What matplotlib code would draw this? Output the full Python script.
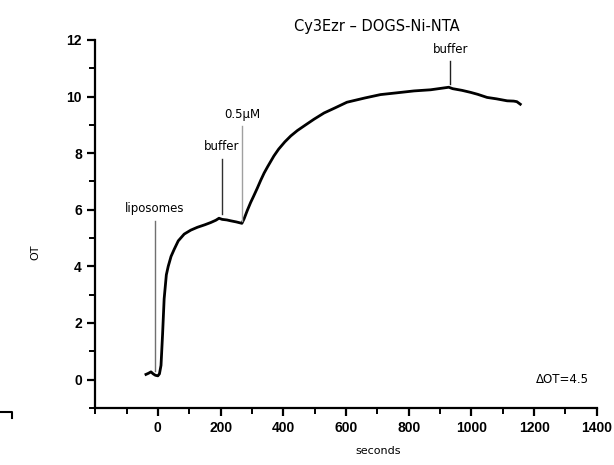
import matplotlib
matplotlib.use("Agg")
import matplotlib.pyplot as plt
from matplotlib.lines import Line2D

# trace (seconds, OT)
t = [-38, -30, -22, -15, -8, 0, 5, 10, 15, 20, 27, 33, 42, 52, 65, 84, 105,
     126, 150, 169, 185, 195, 205, 220, 232, 250, 268, 275, 285, 296, 305,
     317, 328, 339, 350, 370, 385, 405, 424, 445, 470, 498, 530, 565, 603,
     660, 710, 760, 817, 870, 928, 940, 970, 997, 1020, 1050, 1080, 1114,
     1135, 1145, 1156]
ot = [0.18, 0.22, 0.27, 0.2, 0.15, 0.13, 0.2, 0.5, 1.6, 2.85, 3.7, 4.0, 4.35,
      4.6, 4.9, 5.14, 5.28, 5.38, 5.47, 5.55, 5.63, 5.7, 5.66, 5.64, 5.61,
      5.57, 5.52, 5.68, 5.97, 6.26, 6.47, 6.76, 7.04, 7.3, 7.52, 7.9, 8.14,
      8.4, 8.61, 8.8, 8.99, 9.2, 9.42, 9.6, 9.8, 9.95, 10.07, 10.13, 10.2,
      10.24, 10.33, 10.28, 10.22, 10.15, 10.08, 9.97, 9.92, 9.85, 9.84, 9.82,
      9.73]

# annotations: label, x of marker line, line bottom, line top, colour
marks = [("liposomes", -10, 0.3, 5.6, "#707070"),
         ("buffer", 204, 5.85, 7.8, "#303030"),
         ("0.5µM", 268, 5.6, 8.95, "#a0a0a0"),
         ("buffer", 933, 10.45, 11.25, "#202020")]

fig = plt.figure(figsize=(6.14, 4.65), dpi=100)
ax = fig.add_axes([0.155, 0.123, 0.817, 0.791])

ax.plot(t, ot, color="black", lw=2)

for label, x, y0, y1, c in marks:
    ax.plot([x, x], [y0, y1], color=c, lw=1)
    ax.text(x, y1 + 0.2, label, ha="center", va="bottom", fontsize=8.5,
            family="DejaVu Sans")

ax.text(1290, 0, "ΔOT=4.5", ha="center", va="center", fontsize=8.5,
        family="DejaVu Sans")

ax.set_xlim(-200, 1400)
ax.set_ylim(-1, 12)
ax.set_xticks(range(0, 1401, 200))
ax.set_xticks(range(-200, 1401, 100), minor=True)
ax.set_yticks(range(0, 13, 2))
ax.set_yticks(range(-1, 13, 1), minor=True)

for s in ["top", "right"]:
    ax.spines[s].set_visible(False)
for s in ["left", "bottom"]:
    ax.spines[s].set_linewidth(1.6)

ax.tick_params(which="major", length=6, width=1.6, direction="out")
ax.tick_params(which="minor", length=4, width=1.4, direction="out")
for lab in ax.get_xticklabels() + ax.get_yticklabels():
    lab.set_family("Liberation Sans")
    lab.set_fontweight("bold")
    lab.set_fontsize(10)

fig.text(0.614, 0.942, "Cy3Ezr – DOGS-Ni-NTA", ha="center", va="center",
         fontsize=10.5, family="DejaVu Sans")
fig.text(0.616, 0.03, "seconds", ha="center", va="center", fontsize=8,
         family="DejaVu Sans")
fig.text(0.058, 0.458, "OT", ha="center", va="center", fontsize=8,
         rotation=90, family="DejaVu Sans")

# small stray mark in the lower-left corner of the original
fig.add_artist(Line2D([0.0, 0.02, 0.02], [0.114, 0.114, 0.101],
                      color="black", lw=1.5, transform=fig.transFigure))

fig.savefig("out.png", dpi=100)
